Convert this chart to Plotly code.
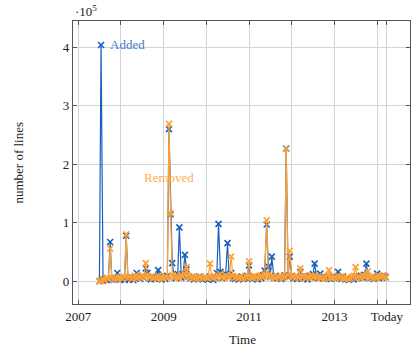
import pandas as pd
import plotly.graph_objects as go

# Lines added / removed, in thousands, sampled twice a month from 2007-07-01
added = [
    0, 404, 1, 3, 2, 4, 67, 3, 2, 5, 14, 4,
    3, 5, 2, 78, 4, 3, 6, 2, 5, 14, 7, 4, 9, 6, 22, 14, 5, 3, 7, 4, 6, 19, 8, 3,
    6, 4, 9, 260, 114, 31, 7, 5, 12, 92, 6, 10, 45, 20, 8, 5, 7, 3, 6, 4, 8, 5, 3, 6,
    4, 3, 8, 5, 2, 6, 14, 98, 16, 5, 8, 12, 65, 9, 14, 6, 4, 7, 3, 5, 8, 4, 6, 9,
    27, 6, 4, 8, 5, 3, 7, 5, 10, 18, 97, 25, 8, 42, 6, 9, 5, 7, 4, 6, 10, 227, 8, 42,
    9, 5, 7, 4, 6, 16, 8, 5, 7, 3, 9, 6, 12, 30, 8, 5, 13, 6, 4, 7, 5, 8, 4, 6,
    5, 7, 16, 6, 4, 8, 3, 5, 2, 4, 6, 3, 8, 5, 7, 9, 6, 11, 30, 8, 5, 7, 4, 6,
    13, 5, 8, 6, 9, 7,
]
removed = [
    0, 1, 3, 2, 6, 4, 56, 5, 3, 6, 4, 7,
    6, 4, 7, 80, 5, 8, 4, 6, 9, 5, 8, 6, 10, 7, 31, 9, 6, 8, 5, 7, 4, 9, 6, 5,
    5, 8, 6, 269, 116, 10, 6, 9, 7, 5, 11, 8, 12, 24, 9, 6, 8, 5, 7, 4, 6, 8, 5, 7,
    6, 5, 30, 7, 5, 8, 6, 9, 12, 7, 5, 10, 8, 6, 42, 9, 6, 8, 5, 7, 4, 6, 9, 7,
    34, 7, 5, 9, 6, 8, 5, 10, 7, 12, 104, 11, 6, 9, 7, 5, 8, 6, 9, 5, 7, 226, 10, 52,
    8, 7, 5, 9, 6, 22, 7, 9, 5, 8, 6, 10, 7, 9, 6, 8, 5, 7, 4, 6, 9, 19, 6, 5,
    7, 5, 9, 6, 8, 5, 4, 6, 3, 5, 7, 9, 24, 6, 8, 5, 10, 7, 9, 17, 6, 8, 5, 7,
    6, 9, 7, 10, 8, 6,
]
dates = pd.date_range("2007-07-01", periods=len(added), freq="SMS")

x_tickvals = ["2007-01-01", "2008-01-01", "2009-01-01", "2010-01-01", "2011-01-01",
              "2012-01-01", "2013-01-01", "2014-01-01", "2014-03-25"]
x_ticktext = ["2007", "", "2009", "", "2011", "", "2013", "", "Today"]
y_tickvals = [0, 100, 200, 300, 400]
y_ticktext = ["0", "1", "2", "3", "4"]

BLUE = "#1660bd"
ORANGE = "#ffa032"
FONT = "Liberation Serif"
AX = "#555555"
GRID = "#d4d4d4"
TXT = "#222222"

fig = go.Figure()
fig.add_trace(go.Scatter(
    x=dates, y=added, mode="lines+markers", name="Added",
    line=dict(color=BLUE, width=1.2),
    marker=dict(symbol="x-thin", size=6, line=dict(color=BLUE, width=1.6)),
))
fig.add_trace(go.Scatter(
    x=dates, y=removed, mode="lines+markers", name="Removed",
    line=dict(color=ORANGE, width=1.2),
    marker=dict(symbol="x-thin", size=6, line=dict(color=ORANGE, width=1.6)),
))

fig.update_layout(
    width=412, height=346,
    margin=dict(l=73, r=2, t=21, b=42, autoexpand=False),
    paper_bgcolor="white", plot_bgcolor="white",
    showlegend=False,
    font=dict(family=FONT, size=13, color=TXT),
    xaxis=dict(
        type="date", range=["2006-11-17", "2014-10-09"], automargin=False,
        tickmode="array", tickvals=x_tickvals, ticktext=x_ticktext,
        showgrid=True, gridcolor=GRID, gridwidth=1,
        showline=True, linecolor=AX, linewidth=1.2, mirror="ticks",
        ticks="inside", ticklen=4, tickcolor=AX, tickwidth=1,
        zeroline=False, tickfont=dict(family=FONT, size=13, color=TXT),
    ),
    yaxis=dict(
        range=[-39, 445], automargin=False,
        tickmode="array", tickvals=y_tickvals, ticktext=y_ticktext,
        showgrid=True, gridcolor=GRID, gridwidth=1,
        showline=True, linecolor=AX, linewidth=1.2, mirror="ticks",
        ticks="inside", ticklen=4, tickcolor=AX, tickwidth=1,
        zeroline=False, tickfont=dict(family=FONT, size=13, color=TXT),
    ),
    annotations=[
        dict(text="number of lines", textangle=-90, xref="paper", yref="paper",
             x=-0.163, y=0.5, xanchor="center", yanchor="middle", showarrow=False,
             font=dict(family=FONT, size=13, color=TXT)),
        dict(text="Time", xref="paper", yref="paper", x=0.504, y=-0.127,
             xanchor="center", yanchor="middle", showarrow=False,
             font=dict(family=FONT, size=13, color=TXT)),
        dict(text="·10<sup>5</sup>", xref="paper", yref="paper", x=0.0, y=1.035,
             xanchor="left", yanchor="middle", showarrow=False,
             font=dict(family=FONT, size=13, color=TXT)),
        dict(text="Added", xref="x", yref="y", x="2007-09-12", y=404,
             xanchor="left", yanchor="middle", showarrow=False,
             font=dict(family=FONT, size=13, color="#3b7dcc")),
        dict(text="Removed", xref="x", yref="y", x="2008-06-28", y=178,
             xanchor="left", yanchor="middle", showarrow=False,
             font=dict(family=FONT, size=13, color="#ffad4f")),
    ],
)

fig.write_html("out.html", config={"displayModeBar": False},
               post_script="document.body.style.margin='0';")
